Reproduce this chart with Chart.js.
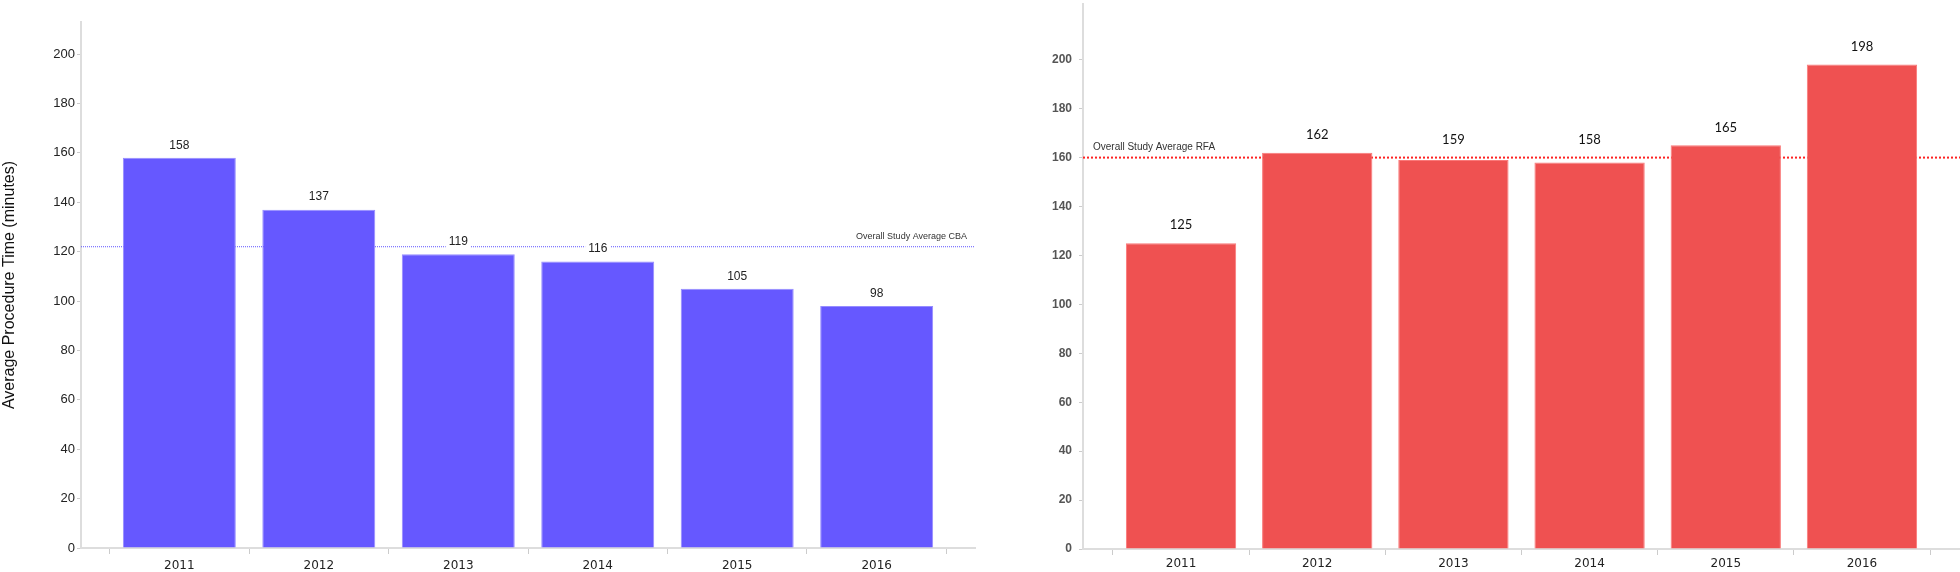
<!DOCTYPE html>
<html>
<head>
<meta charset="utf-8">
<script src="https://cdn.jsdelivr.net/npm/chart.js@4.4.1/dist/chart.umd.min.js"></script>
<style>
  html, body { margin: 0; padding: 0; background: #fff; overflow: hidden; }
  body { width: 1960px; height: 572px; position: relative; }
  #cbaChart { position: absolute; left: 0; top: 0; }
  #rfaChart { position: absolute; left: 1000px; top: -10px; }
</style>
</head>
<body>
<canvas id="cbaChart" width="1000" height="572"></canvas>
<canvas id="rfaChart" width="980" height="582"></canvas>
<script>
const years = ["2011", "2012", "2013", "2014", "2015", "2016"];
const cbaTimes = [158, 137, 119, 116, 105, 98];
const rfaTimes = [125, 162, 159, 158, 165, 198];
const cbaAverage = 122;
const rfaAverage = 160;
const yTicks = [0, 20, 40, 60, 80, 100, 120, 140, 160, 180, 200];

// draws the dotted average line behind the bars, and the value labels on top
function makeOverlay(opts) {
  return {
    id: "overlay",
    beforeDatasetsDraw(chart) {
      const { ctx, chartArea } = chart;
      const y = chart.scales.y.getPixelForValue(opts.average);
      ctx.save();
      ctx.strokeStyle = opts.lineColor;
      ctx.lineWidth = opts.lineWidth;
      ctx.setLineDash(opts.dash);
      ctx.beginPath();
      ctx.moveTo(chartArea.left, y);
      ctx.lineTo(chartArea.right, y);
      ctx.stroke();
      ctx.restore();
    },
    afterDatasetsDraw(chart) {
      const { ctx, chartArea } = chart;
      const lineY = chart.scales.y.getPixelForValue(opts.average);
      const meta = chart.getDatasetMeta(0);
      ctx.save();
      ctx.font = opts.labelFont;
      ctx.textAlign = "center";
      ctx.textBaseline = "middle";
      meta.data.forEach((bar, i) => {
        const text = String(chart.data.datasets[0].data[i]);
        // bars ending just under the line get their label lifted above it
        let top = bar.y;
        if (opts.avoidLine && bar.y > lineY && bar.y - lineY < 10) top = lineY;
        const y = top - opts.labelGap;
        const w = ctx.measureText(text).width + 6;
        ctx.fillStyle = "#fff";
        ctx.fillRect(bar.x - w / 2, y - 7, w, 14);
        ctx.fillStyle = opts.labelColor;
        ctx.fillText(text, bar.x, y);
      });

      // average label
      ctx.font = opts.noteFont;
      ctx.fillStyle = "#333";
      ctx.textBaseline = "alphabetic";
      if (opts.noteAlign === "right") {
        ctx.textAlign = "right";
        ctx.fillText(opts.note, chartArea.right - 8, lineY - 8);
      } else {
        ctx.textAlign = "left";
        ctx.fillText(opts.note, chartArea.left + 10, lineY - 8);
      }
      ctx.restore();
    },
  };
}

// leave some room on both sides of the first and last category
function padCategories(pad) {
  return function (scale) {
    scale._startValue -= pad;
    scale._valueRange += pad * 2;
  };
}

function useTicks(scale) {
  scale.ticks = yTicks.map((v) => ({ value: v }));
}

document.addEventListener("DOMContentLoaded", () => {
  initCbaChart();
  initRfaChart();
});

function initCbaChart() {
  const ctx = document.getElementById("cbaChart").getContext("2d");

  new Chart(ctx, {
    type: "bar",
    data: {
      labels: years,
      datasets: [
        {
          data: cbaTimes,
          backgroundColor: "rgb(102, 88, 255)",
          borderColor: "rgb(150, 140, 255)",
          borderWidth: 1,
          categoryPercentage: 0.81,
          barPercentage: 1,
        },
      ],
    },
    options: {
      responsive: false,
      animation: false,
      devicePixelRatio: 1,
      layout: { padding: { top: 22, right: 25, left: 0, bottom: 0 } },
      plugins: { legend: { display: false }, tooltip: { enabled: false } },
      scales: {
        x: {
          afterBuildTicks: padCategories(0.205),
          afterFit: (scale) => { scale.height = 24; },
          grid: { drawOnChartArea: false, color: "#ccc", tickLength: 6 },
          border: { color: "#ddd", width: 2 },
          ticks: {
            font: { family: "DejaVu Sans", size: 12 },
            color: "#222",
            padding: 5,
            maxRotation: 0,
            autoSkip: false,
          },
        },
        y: {
          min: 0,
          max: 213,
          afterBuildTicks: useTicks,
          afterFit: (scale) => { scale.width = 81; },
          grid: { drawOnChartArea: false, color: "#ccc", tickLength: 4 },
          border: { color: "#ddd", width: 2 },
          ticks: {
            font: { family: "Liberation Sans", size: 13 },
            color: "#222",
            padding: 2,
          },
          title: {
            display: true,
            text: "Average Procedure Time (minutes)",
            font: { family: "Liberation Sans", size: 16 },
            color: "#111",
            padding: { top: 0, bottom: 0 },
          },
        },
      },
    },
    plugins: [
      makeOverlay({
        average: cbaAverage,
        lineColor: "rgba(95, 85, 255, 1)",
        lineWidth: 1,
        dash: [1, 1],
        labelFont: "12px 'Liberation Sans'",
        labelColor: "#222",
        labelGap: 12.5,
        avoidLine: false,
        note: "Overall Study Average CBA",
        noteFont: "9px 'Liberation Sans'",
        noteAlign: "right",
      }),
    ],
  });
}

function initRfaChart() {
  const ctx = document.getElementById("rfaChart").getContext("2d");

  new Chart(ctx, {
    type: "bar",
    data: {
      labels: years,
      datasets: [
        {
          data: rfaTimes,
          backgroundColor: "rgb(239, 81, 81)",
          borderColor: "rgb(250, 120, 120)",
          borderWidth: 1,
          categoryPercentage: 0.81,
          barPercentage: 1,
        },
      ],
    },
    options: {
      responsive: false,
      animation: false,
      devicePixelRatio: 1,
      layout: { padding: { top: 10, right: 20, left: 0, bottom: 0 } },
      plugins: { legend: { display: false }, tooltip: { enabled: false } },
      scales: {
        x: {
          afterBuildTicks: padCategories(0.22),
          afterFit: (scale) => { scale.height = 23; },
          grid: { drawOnChartArea: false, color: "#ccc", tickLength: 6 },
          border: { color: "#ddd", width: 2 },
          ticks: {
            font: { family: "DejaVu Sans", size: 12 },
            color: "#222",
            padding: 2,
            maxRotation: 0,
            autoSkip: false,
          },
        },
        y: {
          min: 0,
          max: 222.7,
          afterBuildTicks: useTicks,
          afterFit: (scale) => { scale.width = 83; },
          grid: { drawOnChartArea: false, color: "#ccc", tickLength: 4 },
          border: { color: "#ddd", width: 2 },
          ticks: {
            font: { family: "Liberation Sans", size: 12, weight: "bold" },
            color: "#555",
            padding: 7,
          },
        },
      },
    },
    plugins: [
      makeOverlay({
        average: rfaAverage,
        lineColor: "#f22",
        lineWidth: 2,
        dash: [2, 2],
        labelFont: "13px Lato",
        labelColor: "#111",
        labelGap: 18,
        avoidLine: true,
        note: "Overall Study Average RFA",
        noteFont: "10px 'Liberation Sans'",
        noteAlign: "left",
      }),
    ],
  });
}
</script>
</body>
</html>
